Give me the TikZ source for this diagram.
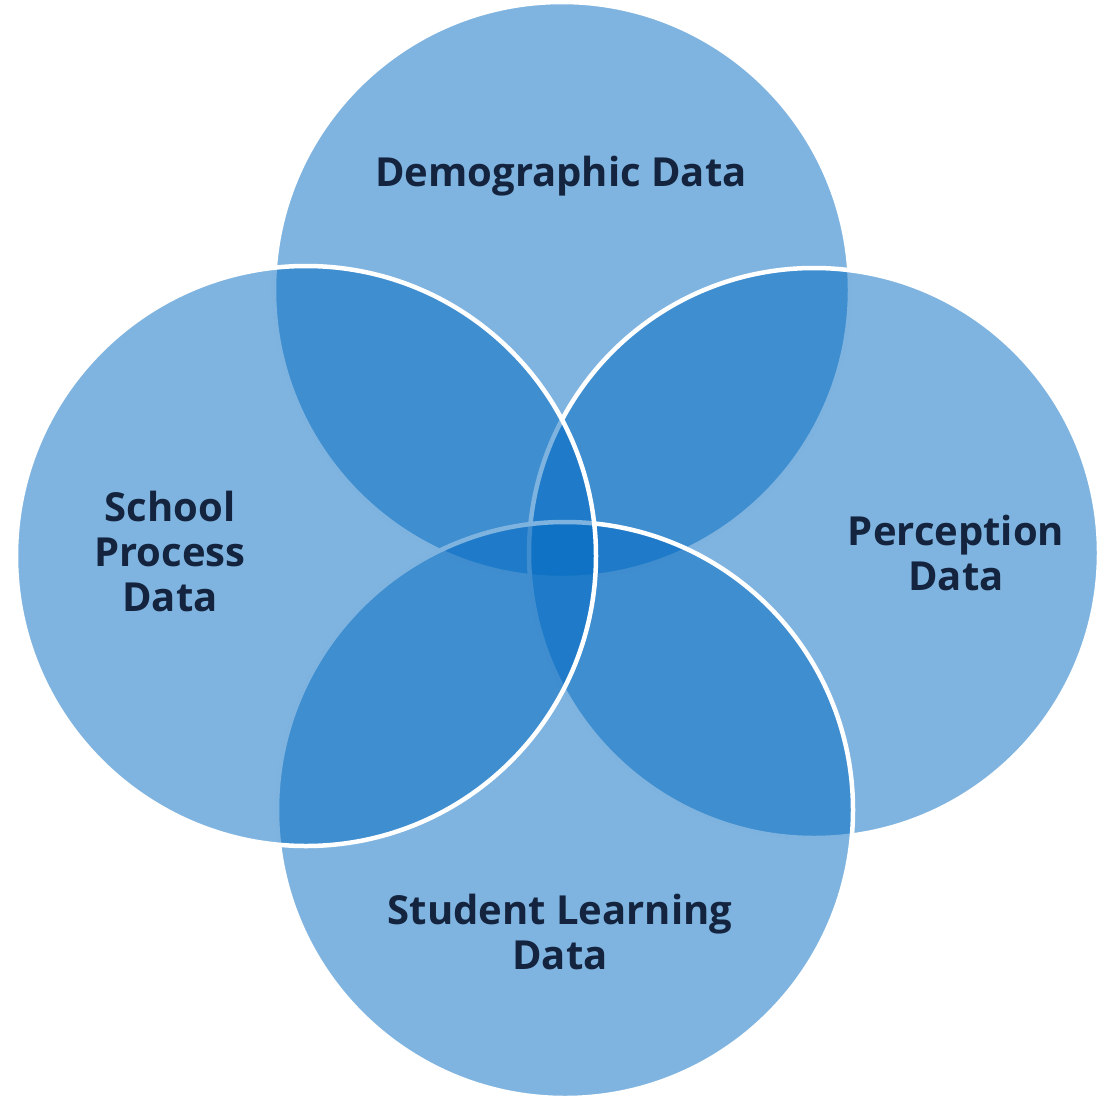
\documentclass[tikz,border=0pt]{standalone}
\usepackage{fontspec}
\setmainfont{Open Sans}
\definecolor{vennfill}{RGB}{0,105,193}
\definecolor{labelcol}{RGB}{20,36,63}
\tikzset{
  venn/.style={fill=vennfill, fill opacity=0.5, draw=none},
  vennedge/.style={draw=white, line width=4.5pt},
  lbl/.style={text=labelcol, align=center, inner sep=0pt,
    font=\fontsize{40}{45}\selectfont\bfseries}
}
\begin{document}
\begin{tikzpicture}[x=1pt,y=-1pt]
\useasboundingbox (0,0) rectangle (1099,1103);
% centres
\coordinate (ct) at (562,290);
\coordinate (cr) at (814,553);
\coordinate (cb) at (565,810);
\coordinate (cl) at (306,556);
% top
\fill[venn] (ct) circle (288);
\draw[vennedge] (ct) circle (288);
% right
\fill[venn] (cr) circle (285);
\draw[vennedge] (cr) circle (285);
% bottom
\fill[venn] (cb) circle (288);
\draw[vennedge] (cb) circle (288);
% left
\fill[venn] (cl) circle (290);
\draw[vennedge] (cl) circle (290);
% labels
\node[lbl] (demo) at (561,176) {Demographic Data};
\node[lbl] (school) at (170,551) {School\\Process\\Data};
\node[lbl] (perc) at (956,553) {Perception\\Data};
\node[lbl] (stud) at (560,932) {Student Learning\\Data};
\end{tikzpicture}
\end{document}
